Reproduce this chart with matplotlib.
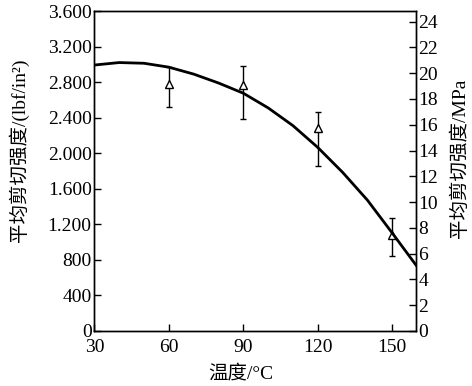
import numpy as np
import matplotlib
matplotlib.use('Agg')
import matplotlib.pyplot as plt

plt.rcParams['font.family'] = ['Liberation Serif', 'Noto Sans CJK SC']
plt.rcParams['font.size'] = 13

# fitted trend curve (lbf/in2)
curve_temp = [30, 40, 50, 60, 70, 80, 90, 100, 110, 120, 130, 140, 150, 160]
curve_val = [2992, 3020, 3012, 2968, 2890, 2790, 2675, 2510, 2310, 2065, 1785, 1472, 1102, 725]

# measured points with error bars
pt_temp = [60, 90, 120, 150]
pt_val = [2780, 2767, 2280, 1080]
err_low = [2516, 2385, 1858, 844]
err_high = [2970, 2985, 2460, 1275]

xticks = [30, 60, 90, 120, 150]
left_ticks = [0, 400, 800, 1200, 1600, 2000, 2400, 2800, 3200, 3600]
left_labels = ['0', '400', '800', '1.200', '1.600', '2.000', '2.400', '2.800', '3.200', '3.600']
right_ticks = [0, 2, 4, 6, 8, 10, 12, 14, 16, 18, 20, 22, 24]

fig = plt.figure(figsize=(4.72, 3.86), dpi=100)
ax = fig.add_axes([0.2, 0.1425, 0.681, 0.829])

ax.plot(curve_temp, curve_val, color='black', lw=2, zorder=3)

yerr = np.array([np.array(pt_val) - np.array(err_low), np.array(err_high) - np.array(pt_val)])
ax.errorbar(pt_temp, pt_val, yerr=yerr, fmt='^', mfc='white', mec='black', ms=6,
            ecolor='black', elinewidth=1, capsize=2.5, capthick=1, zorder=2)

ax.set_xlim(30, 159.5)
ax.set_ylim(0, 3600)
ax.set_xticks(xticks)
ax.set_yticks(left_ticks)
ax.set_yticklabels(left_labels)
ax.tick_params(direction='in', length=5, width=1, labelsize=14)
ax.tick_params(axis='y', pad=2)
ax.tick_params(axis='x', pad=6)
ax.set_xlabel('温度/°C', fontsize=14)
ax.xaxis.set_label_coords(0.455, -0.105)
ax.set_ylabel('平均剪切强度/(lbf/in²)', fontsize=14)
ax.yaxis.set_label_coords(-0.205, 0.565)

ax2 = ax.twinx()
ax2.set_ylim(0, 3600 * 0.0068948)
ax2.set_yticks(right_ticks)
ax2.tick_params(direction='in', length=5, width=1, pad=2, labelsize=14)
ax2.set_ylabel('平均剪切强度/MPa', fontsize=14)
ax2.yaxis.set_label_coords(1.108, 0.54)

for a in (ax, ax2):
    for s in a.spines.values():
        s.set_linewidth(1)

fig.savefig('out.png', dpi=100)
